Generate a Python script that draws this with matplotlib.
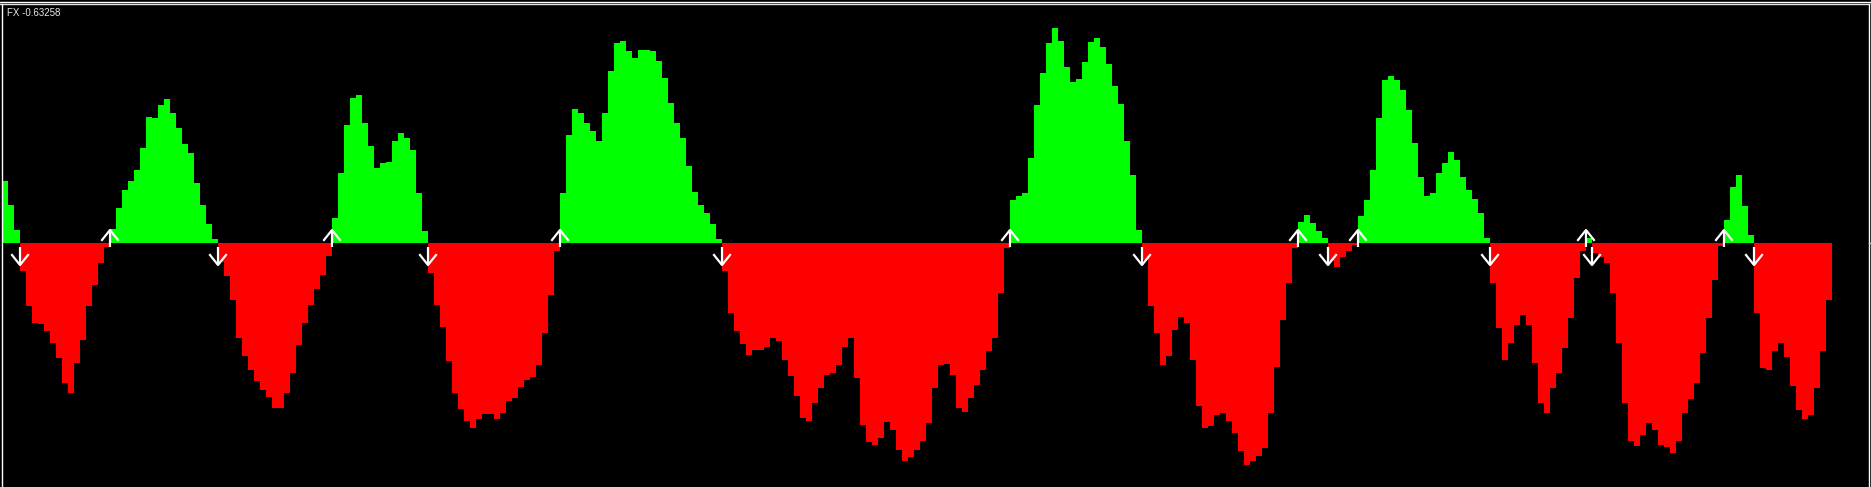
import numpy as np
import matplotlib
matplotlib.use("Agg")
import matplotlib.pyplot as plt
from matplotlib.lines import Line2D

# Indicator values, one per bar (oldest -> newest)
fx = [
    0.69, 0.42, 0.14, -0.31, -0.70, -0.89, -0.90, -0.98, -1.11, -1.28, -1.56, -1.67, -1.33, -1.08, -0.70, -0.47, -0.22, -0.04,
    0.16, 0.39, 0.59, 0.69, 0.81, 1.06, 1.40, 1.39, 1.53, 1.60, 1.44, 1.28, 1.10, 1.00, 0.67, 0.42, 0.21, 0.04,
    -0.21, -0.37, -0.63, -1.06, -1.26, -1.41, -1.53, -1.63, -1.71, -1.83, -1.83, -1.67, -1.44, -1.13, -0.89, -0.69, -0.51, -0.36, -0.14,
    0.28, 0.78, 1.31, 1.61, 1.64, 1.33, 1.08, 0.83, 0.89, 0.90, 1.13, 1.22, 1.17, 1.03, 0.56, 0.13,
    -0.33, -0.69, -0.93, -1.31, -1.67, -1.84, -1.98, -2.06, -1.96, -1.90, -1.90, -1.96, -1.89, -1.76, -1.72, -1.60, -1.52, -1.49, -1.36, -1.00, -0.58, -0.09,
    0.56, 1.20, 1.49, 1.44, 1.33, 1.24, 1.13, 1.44, 1.91, 2.22, 2.24, 2.13, 2.06, 2.14, 2.14, 2.13, 2.02, 1.83, 1.56, 1.33, 1.17, 0.86, 0.57, 0.42, 0.33, 0.21, 0.04,
    -0.31, -0.78, -0.98, -1.12, -1.24, -1.19, -1.19, -1.16, -1.06, -1.09, -1.30, -1.48, -1.70, -1.94, -1.98, -1.78, -1.61, -1.47, -1.44, -1.36,
    -1.16, -1.06, -1.50, -2.02, -2.21, -2.24, -2.17, -1.99, -2.08, -2.30, -2.42, -2.38, -2.30, -2.20, -2.00, -1.61, -1.36, -1.34, -1.47, -1.83,
    -1.88, -1.72, -1.58, -1.41, -1.20, -1.06, -0.56, -0.06,
    0.48, 0.52, 0.56, 0.94, 1.53, 1.89, 2.22, 2.39, 2.24, 1.96, 1.79, 1.82, 2.01, 2.23, 2.28, 2.18, 1.99, 1.74, 1.54, 1.13, 0.76, 0.14,
    -0.19, -0.70, -1.00, -1.36, -1.26, -0.97, -0.82, -0.89, -1.30, -1.81, -2.06, -2.03, -1.91, -1.89, -1.98, -2.11, -2.31, -2.47, -2.42, -2.37,
    -2.28, -1.89, -1.38, -0.86, -0.44, -0.06,
    0.23, 0.31, 0.22, 0.13, 0.06,
    -0.20, -0.27, -0.16, -0.09, -0.02,
    0.30, 0.48, 0.81, 1.39, 1.81, 1.86, 1.81, 1.70, 1.48, 1.11, 0.73, 0.52, 0.56, 0.78, 0.89, 1.01, 0.92, 0.73, 0.59, 0.49, 0.33, 0.06,
    -0.44, -0.94, -1.30, -1.11, -0.91, -0.80, -0.91, -1.33, -1.78, -1.89, -1.61, -1.44, -1.17, -0.83, -0.39, -0.09,
    0.06,
    -0.11, -0.16, -0.22, -0.56, -1.11, -1.78, -2.20, -2.26, -2.13, -2.00, -2.08, -2.24, -2.27, -2.33, -2.20, -1.89, -1.73, -1.56, -1.22, -0.83, -0.41, -0.03,
    0.26, 0.62, 0.76, 0.41, 0.09,
    -0.78, -1.39, -1.41, -1.20, -1.11, -1.27, -1.59, -1.86, -1.96, -1.91, -1.61, -1.20, -0.63258,
]
label_name = "FX"

W, H = 1871, 487
fig = plt.figure(figsize=(W / 100, H / 100), dpi=100, facecolor="black")
ax = fig.add_axes([0, 0, 1, 1])
ax.set_facecolor("black")
for s in ax.spines.values():
    s.set_visible(False)
ax.set_xticks([])
ax.set_yticks([])

vals = np.array(fx)
idx = np.arange(len(vals))
colors = np.where(vals >= 0, "#00FF00", "#FF0000")
ax.bar(idx, vals, width=1.0, color=colors, linewidth=0, antialiased=False)

# axis limits (6 px per bar, zero line at 243 px from top, 90 px per unit)
x0 = -5 / 6
x1 = x0 + W / 6
ax.set_xlim(x0, x1)
ax.set_ylim(-(H - 243) / 90, 243 / 90)

# pixel -> data scale
ux = (x1 - x0) / W
uy = (243 / 90 + (H - 243) / 90) / H

# crossing arrows
sign = vals >= 0
lw = 1.6
for k in range(1, len(vals)):
    if sign[k] != sign[k - 1]:
        xa = k - 0.5
        if sign[k]:
            ax.plot([xa, xa], [-4 * uy, 13 * uy], color="white", lw=lw, solid_capstyle="butt")
            ax.plot([xa - 8 * ux, xa, xa + 8 * ux], [3 * uy, 13 * uy, 3 * uy], color="white", lw=lw)
        else:
            ax.plot([xa, xa], [-4 * uy, -22 * uy], color="white", lw=lw, solid_capstyle="butt")
            ax.plot([xa - 8 * ux, xa, xa + 8 * ux], [-12 * uy, -22 * uy, -12 * uy], color="white", lw=lw)

# window frame
def fl(xs, ys, c="white", lw=1.0):
    fig.add_artist(Line2D([x / W for x in xs], [1 - y / H for y in ys], color=c, lw=lw,
                          transform=fig.transFigure))

fl([0, W], [1.5, 1.5])
fl([0, 1869], [4, 4], c="#e0e0e0")
fl([1.5, 1.5], [4, H])
fl([1868.5, 1868.5], [4, H])
fl([1868.5, W], [243, 243], c="#d0d0d0")

fig.text(7 / W, 1 - 7.5 / H, f"{label_name} {vals[-1]:.5f}", color="#e8e8e8", fontsize=7,
         ha="left", va="top", family=["Liberation Sans", "DejaVu Sans"])

fig.savefig("out.png", dpi=100, facecolor="black")
